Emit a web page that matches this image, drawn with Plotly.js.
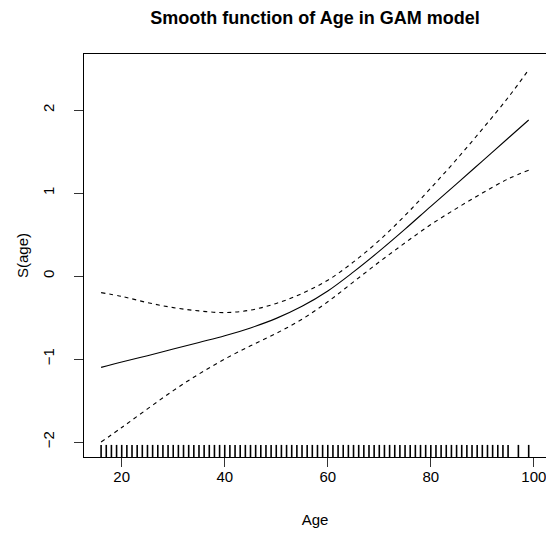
<!DOCTYPE html>
<html>
<head>
<meta charset="utf-8">
<script src="https://cdn.plot.ly/plotly-3.0.1.min.js"></script>
<style>html,body{margin:0;padding:0;background:#fff;}#chart{width:546px;height:535px;}</style>
</head>
<body>
<div id="chart"></div>
<script>
// Data
const ages = [16, 20, 25, 30, 35, 40, 45, 50, 55, 60, 65, 70, 75, 80, 85, 90, 95, 99];
const smoothFit = [-1.10, -1.035, -0.96, -0.88, -0.80, -0.72, -0.625, -0.51, -0.365, -0.18, 0.05, 0.30, 0.565, 0.84, 1.11, 1.385, 1.66, 1.88];
const upperBand = [-0.20, -0.245, -0.32, -0.38, -0.42, -0.44, -0.41, -0.33, -0.21, -0.05, 0.17, 0.43, 0.73, 1.06, 1.405, 1.77, 2.15, 2.485];
const lowerBand = [-2.00, -1.825, -1.60, -1.38, -1.18, -1.00, -0.84, -0.69, -0.52, -0.31, -0.07, 0.17, 0.40, 0.62, 0.815, 1.00, 1.17, 1.275];
const rugAges = [];
for (let a = 16; a <= 95; a++) rugAges.push(a);
rugAges.push(97, 99);
const xTicks = [20, 40, 60, 80, 100];
const yTicks = [-2, -1, 0, 1, 2];

const traces = [
  {x: ages, y: smoothFit, mode: 'lines', line: {color: '#000', width: 1.1, shape: 'spline', smoothing: 1}, hoverinfo: 'skip'},
  {x: ages, y: upperBand, mode: 'lines', line: {color: '#000', width: 1.1, dash: '4px,4px', shape: 'spline', smoothing: 1}, hoverinfo: 'skip'},
  {x: ages, y: lowerBand, mode: 'lines', line: {color: '#000', width: 1.1, dash: '4px,4px', shape: 'spline', smoothing: 1}, hoverinfo: 'skip'}
];

const shapes = rugAges.map(a => ({
  type: 'line', xref: 'x', yref: 'paper', x0: a, x1: a, y0: 0, y1: 0.03,
  line: {color: '#000', width: 1.6}
}));

const font = {family: 'Liberation Sans, Arial, sans-serif', size: 15, color: '#000'};

const layout = {
  width: 546, height: 535,
  margin: {l: 84, r: 0, t: 54, b: 78},
  paper_bgcolor: '#fff', plot_bgcolor: '#fff',
  showlegend: false,
  font: font,
  title: {text: 'Smooth function of Age in GAM model', font: {family: 'Liberation Sans, Arial, sans-serif', size: 18, color: '#000', weight: 'bold'}, x: 315/546, xanchor: 'center', y: 1 - 18/535, yanchor: 'middle', xref: 'container', yref: 'container'},
  xaxis: {
    range: [12.68, 102.36], tickmode: 'array', tickvals: xTicks, ticktext: xTicks.map(String),
    ticks: 'outside', ticklen: 9, tickcolor: '#333', tickwidth: 1,
    showline: true, mirror: true, linecolor: '#000', linewidth: 1,
    showgrid: false, zeroline: false, tickfont: font, ticklabelstandoff: -3, ticklabeloverflow: 'allow',
    title: {text: 'Age', font: font, standoff: 30}
  },
  yaxis: {
    range: [-2.18, 2.675], tickmode: 'array', tickvals: yTicks, ticktext: yTicks.map(v => v < 0 ? '\u2212' + Math.abs(v) : String(v)),
    ticks: 'outside', ticklen: 9, tickcolor: '#333', tickwidth: 1, tickangle: -90,
    showline: true, mirror: false, linecolor: '#000', linewidth: 1,
    showgrid: false, zeroline: false, tickfont: font, ticklabelstandoff: 14,
    title: {text: 'S(age)', font: font, standoff: 7}
  },
  shapes: shapes
};

Plotly.newPlot('chart', traces, layout, {displayModeBar: false, staticPlot: true});
</script>
</body>
</html>
